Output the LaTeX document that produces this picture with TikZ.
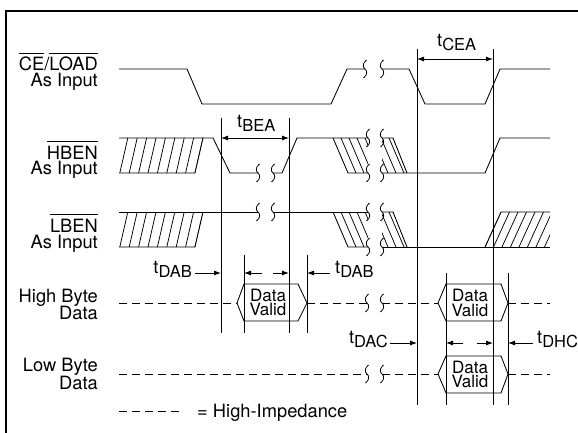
\documentclass[tikz,border=0pt]{standalone}
\usepackage{fontspec}
\setmainfont{TeX Gyre Heros}
\usetikzlibrary{arrows.meta}
\newcommand{\ovl}[1]{\leavevmode\vbox{\hrule height 0.9pt\kern 3.5pt\hbox{#1}}}
\newcommand{\tsb}[1]{t\raisebox{-4pt}{\fontsize{16.5}{16.5}\selectfont #1}}
\begin{document}
\begin{tikzpicture}[x=1pt,y=-1pt,
  font=\fontsize{18.3}{18}\selectfont,
  sig/.style={line width=0.85pt, line join=miter},
  vline/.style={line width=0.85pt},
  hz/.style={line width=0.85pt, dash pattern=on 8pt off 5pt},
  hatchline/.style={line width=0.75pt},
  dimone/.style={line width=0.85pt, -{Latex[length=7pt,width=5pt]}},
  dimtwo/.style={line width=0.85pt, {Latex[length=7pt,width=5pt]}-{Latex[length=7pt,width=5pt]}},
  lbl/.style={anchor=base east, inner sep=0pt},
  txt/.style={inner sep=0pt},
  dvtext/.style={inner sep=0pt, align=center, font=\fontsize{17}{14.5}\selectfont},
  squig/.pic={\draw[line width=0.8pt] (1.5,-9) .. controls (-2.5,-6) and (-2.5,-2) .. (0,0) .. controls (2.5,2) and (2.5,6) .. (-1.5,9);}
]
\useasboundingbox (0,0) rectangle (578,433);
\fill[white] (0,0) rectangle (578,433);
% frame
\draw[line width=2pt] (6,433) -- (6,11) -- (578,11);

% labels
\node[lbl] (ce1) at (98,71) {\ovl{CE}/\ovl{LOAD}};
\node[lbl] (ce2) at (98,87) {As Input};
\node[lbl] (hb1) at (98,159) {\ovl{HBEN}};
\node[lbl] (hb2) at (98,175) {As Input};
\node[lbl] (lb1) at (98,232) {\ovl{LBEN}};
\node[lbl] (lb2) at (98,248) {As Input};
\node[lbl] (hd1) at (98,302.5) {High Byte};
\node[lbl] (hd2) at (98,319.5) {Data};
\node[lbl] (ld1) at (98,371.5) {Low Byte};
\node[lbl] (ld2) at (98,389) {Data};

% CE/LOAD
\draw[sig] (119,69) -- (187,69) -- (202,104) -- (331,104) -- (347,69) -- (365,69);
\draw[sig] (382,69) -- (409,69) -- (425,104) -- (485,104) -- (500,69) -- (550,69);
\pic at (365,69) {squig};
\pic at (382,69) {squig};

% hatches for HBEN and LBEN
\foreach \t/\b in {138/173, 212/247}{
  \begin{scope}
    \clip (119,\t) -- (203,\t) -- (195,\b) -- (119,\b) -- cycle;
    \foreach \i in {0,...,10} \draw[hatchline] ({195-9.4*\i},\b) -- ++(8,-35);
  \end{scope}
  \begin{scope}
    \clip (333,\t) -- (368,\t) -- (368,\b) -- (348,\b) -- cycle;
    \foreach \i in {1,...,5} \draw[hatchline] ({333+8*\i},\t) -- ++(15,35);
  \end{scope}
  \begin{scope}
    \clip (382,\t) -- (393,\t) -- (408,\b) -- (382,\b) -- cycle;
    \foreach \i in {5,...,8} \draw[hatchline] ({333+8*\i},\t) -- ++(15,35);
  \end{scope}
  \draw[sig] (119,\b) -- (195,\b) -- (203,\t);
  \draw[sig] (333,\t) -- (348,\b) -- (368,\b);
  \draw[sig] (382,\t) -- (393,\t) -- (407,\b);
  \pic at (368,\t) {squig};
  \pic at (368,\b) {squig};
  \pic at (382,\t) {squig};
  \pic at (382,\b) {squig};
}

% HBEN
\draw[sig] (119,138) -- (213,138) -- (230,173) -- (258,173);
\pic at (258,173) {squig};
\pic at (273,173) {squig};
\draw[sig] (273,173) -- (282,173) -- (297,138) -- (368,138);
\draw[sig] (382,173) -- (485,173) -- (500,138) -- (550,138);

% LBEN
\draw[sig] (119,212) -- (258,212);
\pic at (258,212) {squig};
\pic at (273,212) {squig};
\draw[sig] (273,212) -- (368,212);
\draw[sig] (382,247) -- (550,247);
\begin{scope}
  \clip (501,212) -- (550,212) -- (550,247) -- (485,247) -- cycle;
  \foreach \i in {0,...,8} \draw[hatchline] ({485+8.5*\i},247) -- ++(16,-35);
\end{scope}
\draw[sig] (485,247) -- (501,212) -- (550,212);

% High byte data
\draw[hz] (119,303) -- (237,303);
\draw[sig] (237,303) -- (244,284) -- (298,284) -- (307,303) -- (298,321) -- (244,321) -- cycle;
\draw[hz] (307,303) -- (367,303);
\pic at (367,303) {squig};
\pic at (382,303) {squig};
\draw[hz] (382,303) -- (438,303);
\draw[sig] (438,303) -- (446,284) -- (501,284) -- (508,303) -- (501,321) -- (446,321) -- cycle;
\draw[hz] (508,303) -- (550,303);

% Low byte data
\draw[hz] (119,374) -- (367,374);
\pic at (367,374) {squig};
\pic at (382,374) {squig};
\draw[hz] (382,374) -- (438,374);
\draw[sig] (438,374) -- (446,356) -- (501,356) -- (508,374) -- (501,393) -- (446,393) -- cycle;
\draw[hz] (508,374) -- (550,374);

% Data valid texts
\node[dvtext] (dv1) at (268,302.3) {Data\\Valid};
\node[dvtext] (dv2) at (470,303) {Data\\Valid};
\node[dvtext] (dv3) at (470,374.3) {Data\\Valid};

% legend
\draw[hz] (119,411) -- (180,411);
\node[txt, anchor=base west] (leg) at (197,417) {= High-Impedance};

% vertical timing lines
\draw[vline] (221,118) -- (221,333);
\draw[vline] (289,118) -- (289,333);
\draw[vline] (244,255) -- (244,333);
\draw[vline] (307,255) -- (307,333);
\draw[vline] (417,49) -- (417,405);
\draw[vline] (493,49) -- (493,405);
\draw[vline] (446,273) -- (446,405);
\draw[vline] (508,273) -- (508,405);

% dimension arrows and labels
\draw[dimtwo] (221,138) -- (289,138);
\node[txt, anchor=base west] (tbea) at (237,128) {\tsb{BEA}};
\draw[dimtwo] (417,59) -- (493,59);
\node[txt, anchor=base west] (tcea) at (437,47) {\tsb{CEA}};
\node[txt, anchor=base east] (tdab1) at (192,273.5) {\tsb{DAB}};
\draw[dimone] (195,273) -- (221,273);
\draw[dimone] (262,273) -- (244,273);
\draw[dimone] (273,273) -- (289,273);
\draw[dimone] (330,273) -- (307,273);
\node[txt, anchor=base west] (tdab2) at (335,273.5) {\tsb{DAB}};
\node[txt, anchor=base east] (tdac) at (388,343.5) {\tsb{DAC}};
\draw[dimone] (390,343) -- (417,343);
\draw[dimone] (463,343) -- (446,343);
\draw[dimone] (477,343) -- (493,343);
\draw[dimone] (533,343) -- (508,343);
\node[txt, anchor=base west] (tdhc) at (537,343.5) {\tsb{DHC}};
\end{tikzpicture}
\end{document}
